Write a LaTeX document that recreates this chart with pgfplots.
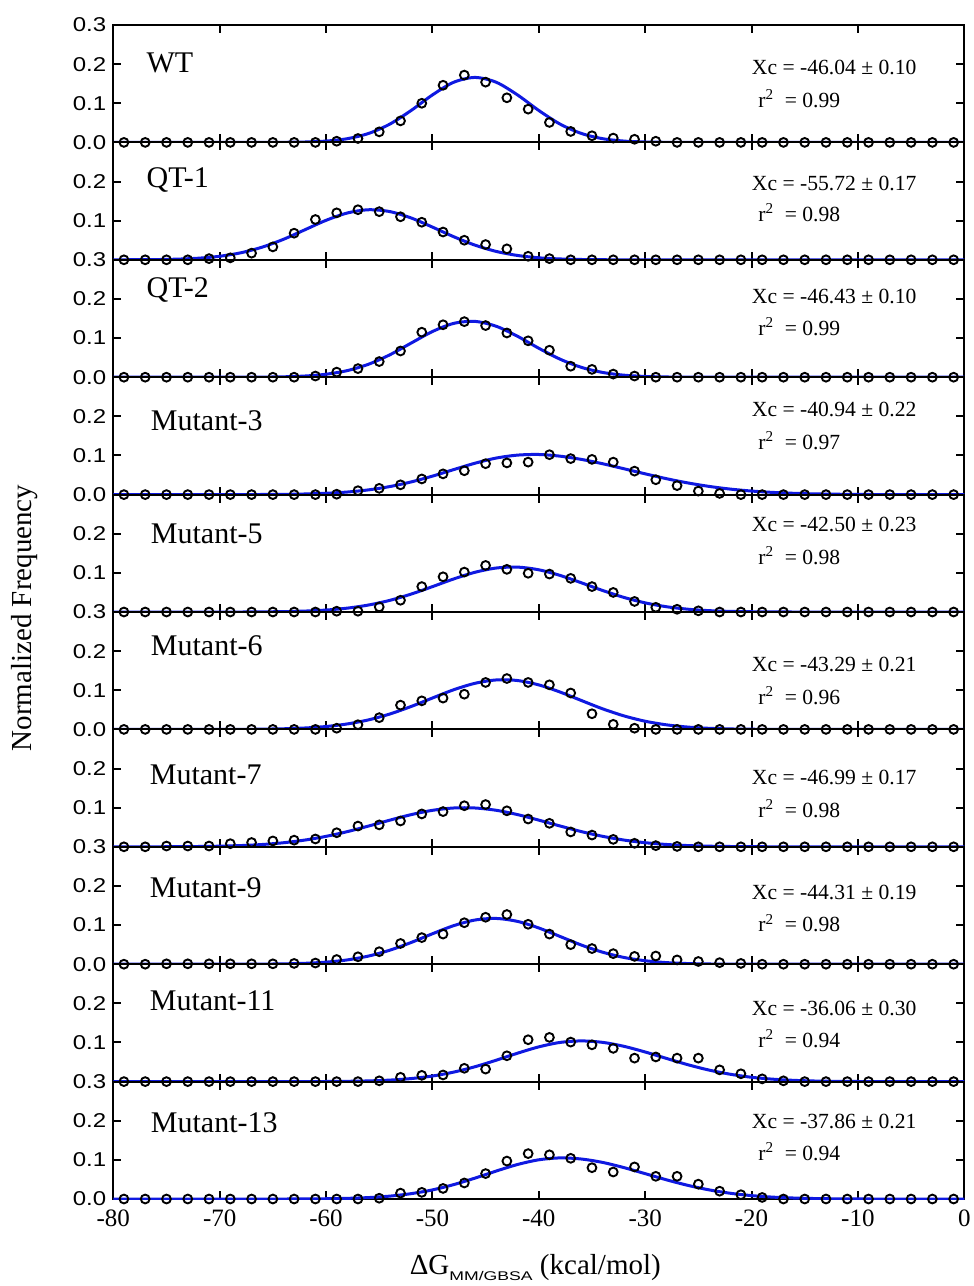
\documentclass[border=0pt]{standalone}
\usepackage{fontspec}
\setmainfont{Liberation Serif}
\newfontfamily\arial{Liberation Sans}
\usepackage{graphicx}
\usepackage{pgfplots}
\usepackage{pgfplotstable}
\pgfplotsset{compat=1.18}
\definecolor{fitblue}{RGB}{15,25,225}

% histogram points (bin centres)
\pgfplotstableread{
x    wt    qt1   qt2   m3    m5    m6    m7    m9    m11   m13
-79  0     0     0     0     0     0     0     0     0     0
-77  0     0     0     0     0     0     0     0     0     0
-75  0     0     0     0     0     0     0.002 0.001 0     0
-73  0     0     0     0     0     0     0.002 0.001 0     0
-71  0     0.003 0     0     0     0     0.002 0.001 0     0
-69  0     0.005 0     0     0     0     0.008 0.001 0     0
-67  0     0.017 0     0     0     0     0.011 0.001 0     0
-65  0     0.033 0     0     0     0     0.015 0.001 0     0
-63  0     0.068 0     0     0     0     0.017 0.002 0     0
-61  0     0.103 0.003 0     0     0     0.020 0.003 0     0
-59  0.003 0.120 0.013 0.001 0.002 0.003 0.036 0.012 0     0
-57  0.010 0.128 0.022 0.010 0.002 0.012 0.053 0.019 0     0
-55  0.027 0.123 0.040 0.016 0.013 0.030 0.056 0.032 0.002 0.002
-53  0.055 0.110 0.067 0.025 0.030 0.062 0.066 0.053 0.011 0.015
-51  0.100 0.096 0.115 0.040 0.065 0.073 0.084 0.068 0.016 0.017
-49  0.146 0.071 0.134 0.053 0.090 0.080 0.090 0.077 0.017 0.027
-47  0.172 0.050 0.142 0.061 0.102 0.090 0.105 0.106 0.034 0.041
-45  0.154 0.039 0.132 0.079 0.119 0.120 0.108 0.120 0.032 0.065
-43  0.114 0.028 0.113 0.081 0.109 0.130 0.092 0.127 0.066 0.097
-41  0.085 0.009 0.093 0.083 0.099 0.120 0.071 0.102 0.107 0.116
-39  0.051 0.003 0.069 0.102 0.097 0.114 0.060 0.077 0.113 0.113
-37  0.028 0     0.028 0.092 0.086 0.093 0.038 0.050 0.101 0.104
-35  0.017 0     0.020 0.090 0.065 0.040 0.030 0.040 0.094 0.080
-33  0.011 0     0.008 0.083 0.050 0.013 0.019 0.027 0.085 0.069
-31  0.008 0     0.003 0.060 0.027 0.003 0.009 0.020 0.060 0.082
-29  0.003 0     0     0.038 0.012 0     0.003 0.021 0.063 0.058
-27  0     0     0     0.023 0.007 0     0.001 0.011 0.060 0.058
-25  0     0     0     0.009 0.003 0     0     0.007 0.060 0.038
-23  0     0     0     0.003 0     0     0     0.004 0.030 0.020
-21  0     0     0     0     0     0     0     0.002 0.020 0.011
-19  0     0     0     0     0     0     0     0     0.007 0.004
-17  0     0     0     0     0     0     0     0     0.002 0
-15  0     0     0     0     0     0     0     0     0     0
-13  0     0     0     0     0     0     0     0     0     0
-11  0     0     0     0     0     0     0     0     0     0
-9   0     0     0     0     0     0     0     0     0     0
-7   0     0     0     0     0     0     0     0     0     0
-5   0     0     0     0     0     0     0     0     0     0
-3   0     0     0     0     0     0     0     0     0     0
-1   0     0     0     0     0     0     0     0     0     0
}\points

% Gaussian fit curves
\pgfplotstableread{
x    wt     qt1    qt2    m3     m5     m6     m7     m9     m11    m13
-80  0      0      0      0      0      0      0      0      0      0
-78  0      0.0002 0      0      0      0      0.0001 0      0      0
-76  0      0.0006 0      0      0      0      0.0001 0      0      0
-74  0      0.0017 0      0      0      0      0.0003 0      0      0
-72  0      0.0041 0      0      0      0      0.0008 0      0      0
-70  0      0.0090 0      0      0      0      0.0016 0      0      0
-68  0      0.0180 0      0      0      0      0.0032 0.0001 0      0
-66  0      0.0324 0.0003 0.0003 0.0004 0.0007 0.0059 0.0003 0      0
-64  0.0003 0.0524 0.0010 0.0007 0.0010 0.0016 0.0104 0.0009 0      0
-62  0.0010 0.0766 0.0030 0.0016 0.0024 0.0036 0.0172 0.0023 0.0001 0.0003
-60  0.0034 0.1009 0.0076 0.0034 0.0050 0.0074 0.0267 0.0053 0.0003 0.0007
-58  0.0095 0.1196 0.0169 0.0066 0.0099 0.0140 0.0388 0.0110 0.0008 0.0017
-56  0.0229 0.1279 0.0332 0.0121 0.0179 0.0244 0.0531 0.0209 0.0018 0.0037
-54  0.0468 0.1232 0.0573 0.0206 0.0298 0.0394 0.0681 0.0359 0.0039 0.0074
-52  0.0816 0.1069 0.0872 0.0324 0.0458 0.0586 0.0822 0.0555 0.0078 0.0137
-50  0.1213 0.0836 0.1167 0.0472 0.0648 0.0802 0.0932 0.0778 0.0143 0.0233
-48  0.1537 0.0590 0.1375 0.0639 0.0845 0.1013 0.0992 0.0985 0.0243 0.0368
-46  0.1660 0.0375 0.1426 0.0802 0.1015 0.1178 0.0992 0.1129 0.0380 0.0534
-44  0.1537 0.0214 0.1302 0.0934 0.1124 0.1264 0.0933 0.1169 0.0547 0.0715
-42  0.1213 0.0111 0.1046 0.1009 0.1147 0.1249 0.0823 0.1094 0.0726 0.0882
-40  0.0816 0.0051 0.0740 0.1025 0.1079 0.1137 0.0682 0.0926 0.0888 0.1002
-38  0.0468 0.0022 0.0461 0.0982 0.0935 0.0955 0.0532 0.0709 0.1001 0.1050
-36  0.0229 0.0008 0.0252 0.0900 0.0747 0.0739 0.0389 0.0490 0.1040 0.1022
-34  0.0095 0.0002 0.0122 0.0789 0.0550 0.0526 0.0268 0.0307 0.1003 0.0935
-32  0.0034 0      0.0052 0.0661 0.0373 0.0346 0.0173 0.0173 0.0902 0.0803
-30  0.0010 0      0.0019 0.0531 0.0234 0.0209 0.0105 0.0089 0.0757 0.0648
-28  0.0003 0      0.0006 0.0407 0.0135 0.0117 0.0060 0.0041 0.0593 0.0491
-26  0      0      0.0002 0.0299 0.0072 0.0060 0.0032 0.0017 0.0433 0.0350
-24  0      0      0      0.0210 0.0035 0.0028 0.0016 0.0006 0.0295 0.0234
-22  0      0      0      0.0141 0.0016 0.0012 0.0008 0.0002 0.0188 0.0147
-20  0      0      0      0.0091 0.0007 0.0005 0.0003 0.0001 0.0111 0.0087
-18  0      0      0      0.0056 0.0003 0      0.0001 0      0.0062 0.0048
-16  0      0      0      0.0033 0      0      0      0      0.0032 0.0025
-14  0      0      0      0.0018 0      0      0      0      0.0015 0.0012
-12  0      0      0      0.0010 0      0      0      0      0.0007 0.0005
-10  0      0      0      0.0005 0      0      0      0      0.0003 0.0002
-8   0      0      0      0.0002 0      0      0      0      0.0001 0
-4   0      0      0      0      0      0      0      0      0      0
0    0      0      0      0      0      0      0      0      0      0
}\fits

\newcommand\wide[1]{\scalebox{1.2}[1]{#1}}

\pgfplotsset{
  panel/.style={
    scale only axis, width=425.5pt, height=58.7pt, anchor=north west,
    xmin=-80, xmax=0, ymin=0, ymax=0.3,
    xtick={-80,-70,...,0}, xticklabels={},
    ytick={0,0.1,0.2},
    tick align=inside, major tick length=4pt,
    xtick pos=both, ytick pos=both,
    axis line style={line width=1pt},
    tick style={black, line width=1pt},
    yticklabel style={font=\arial\fontsize{10}{11}\selectfont},
  },
  dots/.style={only marks, mark=o, mark size=2.2pt, black, line width=0.95pt},
  fit/.style={fitblue, line width=1.5pt, smooth, no marks},
}
\tikzset{
  lab/.style={anchor=west, font=\fontsize{15}{17}\selectfont, inner sep=0pt},
  ann/.style={anchor=west, font=\fontsize{10.8}{12}\selectfont, inner sep=0pt},
}

\begin{document}
\begin{tikzpicture}
\useasboundingbox (-56.65pt,12.5pt) rectangle (430.35pt,-630.5pt);

\begin{axis}[panel, at={(0pt,0pt)}, ytick={0,0.1,0.2,0.3},
  yticklabels={\wide{0.0},\wide{0.1},\wide{0.2},\wide{0.3}}]
\addplot[dots] table[y=wt]{\points};
\addplot[fit] table[y=wt]{\fits};
\node[lab] at (axis cs:-76.9,0.204) {WT};
\node[ann] at (axis cs:-20,0.191) {Xc = -46.04 ± 0.10};
\node[ann] at (axis cs:-19.4,0.112) {r\textsuperscript{2}\ \ = 0.99};
\end{axis}

\begin{axis}[panel, at={(0pt,-58.7pt)},
  yticklabels={\wide{0.3},\wide{0.1},\wide{0.2}}]
\addplot[dots] table[y=qt1]{\points};
\addplot[fit] table[y=qt1]{\fits};
\node[lab] at (axis cs:-76.9,0.204) {QT-1};
\node[ann] at (axis cs:-20,0.196) {Xc = -55.72 ± 0.17};
\node[ann] at (axis cs:-19.4,0.12) {r\textsuperscript{2}\ \ = 0.98};
\end{axis}

\begin{axis}[panel, at={(0pt,-117.4pt)},
  yticklabels={\wide{0.0},\wide{0.1},\wide{0.2}}]
\addplot[dots] table[y=qt2]{\points};
\addplot[fit] table[y=qt2]{\fits};
\node[lab] at (axis cs:-76.9,0.224) {QT-2};
\node[ann] at (axis cs:-20,0.207) {Xc = -46.43 ± 0.10};
\node[ann] at (axis cs:-19.4,0.13) {r\textsuperscript{2}\ \ = 0.99};
\end{axis}

\begin{axis}[panel, at={(0pt,-176.1pt)},
  yticklabels={\wide{0.0},\wide{0.1},\wide{0.2}}]
\addplot[dots] table[y=m3]{\points};
\addplot[fit] table[y=m3]{\fits};
\node[lab] at (axis cs:-76.5,0.19) {Mutant-3};
\node[ann] at (axis cs:-20,0.217) {Xc = -40.94 ± 0.22};
\node[ann] at (axis cs:-19.4,0.138) {r\textsuperscript{2}\ \ = 0.97};
\end{axis}

\begin{axis}[panel, at={(0pt,-234.8pt)},
  yticklabels={\wide{0.3},\wide{0.1},\wide{0.2}}]
\addplot[dots] table[y=m5]{\points};
\addplot[fit] table[y=m5]{\fits};
\node[lab] at (axis cs:-76.5,0.2) {Mutant-5};
\node[ann] at (axis cs:-20,0.224) {Xc = -42.50 ± 0.23};
\node[ann] at (axis cs:-19.4,0.145) {r\textsuperscript{2}\ \ = 0.98};
\end{axis}

\begin{axis}[panel, at={(0pt,-293.5pt)},
  yticklabels={\wide{0.0},\wide{0.1},\wide{0.2}}]
\addplot[dots] table[y=m6]{\points};
\addplot[fit] table[y=m6]{\fits};
\node[lab] at (axis cs:-76.5,0.214) {Mutant-6};
\node[ann] at (axis cs:-20,0.165) {Xc = -43.29 ± 0.21};
\node[ann] at (axis cs:-19.4,0.087) {r\textsuperscript{2}\ \ = 0.96};
\end{axis}

\begin{axis}[panel, at={(0pt,-352.2pt)},
  yticklabels={\wide{0.3},\wide{0.1},\wide{0.2}}]
\addplot[dots] table[y=m7]{\points};
\addplot[fit] table[y=m7]{\fits};
\node[lab] at (axis cs:-76.6,0.183) {Mutant-7};
\node[ann] at (axis cs:-20,0.176) {Xc = -46.99 ± 0.17};
\node[ann] at (axis cs:-19.4,0.097) {r\textsuperscript{2}\ \ = 0.98};
\end{axis}

\begin{axis}[panel, at={(0pt,-410.9pt)},
  yticklabels={\wide{0.0},\wide{0.1},\wide{0.2}}]
\addplot[dots] table[y=m9]{\points};
\addplot[fit] table[y=m9]{\fits};
\node[lab] at (axis cs:-76.6,0.196) {Mutant-9};
\node[ann] at (axis cs:-20,0.183) {Xc = -44.31 ± 0.19};
\node[ann] at (axis cs:-19.4,0.105) {r\textsuperscript{2}\ \ = 0.98};
\end{axis}

\begin{axis}[panel, at={(0pt,-469.6pt)},
  yticklabels={\wide{0.3},\wide{0.1},\wide{0.2}}]
\addplot[dots] table[y=m11]{\points};
\addplot[fit] table[y=m11]{\fits};
\node[lab] at (axis cs:-76.6,0.207) {Mutant-11};
\node[ann] at (axis cs:-20,0.188) {Xc = -36.06 ± 0.30};
\node[ann] at (axis cs:-19.4,0.11) {r\textsuperscript{2}\ \ = 0.94};
\end{axis}

\begin{axis}[panel, at={(0pt,-528.3pt)},
  yticklabels={\wide{0.0},\wide{0.1},\wide{0.2}},
  xticklabels={-80,-70,-60,-50,-40,-30,-20,-10,0},
  xticklabel style={font=\fontsize{12.5}{14}\selectfont, yshift=-2pt}]
\addplot[dots] table[y=m13]{\points};
\addplot[fit] table[y=m13]{\fits};
\node[lab] at (axis cs:-76.5,0.196) {Mutant-13};
\node[ann] at (axis cs:-20,0.199) {Xc = -37.86 ± 0.21};
\node[ann] at (axis cs:-19.4,0.12) {r\textsuperscript{2}\ \ = 0.94};
\end{axis}

\node[rotate=90, font=\fontsize{14.5}{16}\selectfont] at (-44.2pt,-296.5pt) {Normalized Frequency};
\node[font=\fontsize{14.5}{16}\selectfont] at (211pt,-621.5pt)
  {ΔG\raisebox{-0.45ex}{\scalebox{1.4}[1]{\arial\fontsize{6.3}{7}\selectfont MM/GBSA}} (kcal/mol)};
\end{tikzpicture}
\end{document}
